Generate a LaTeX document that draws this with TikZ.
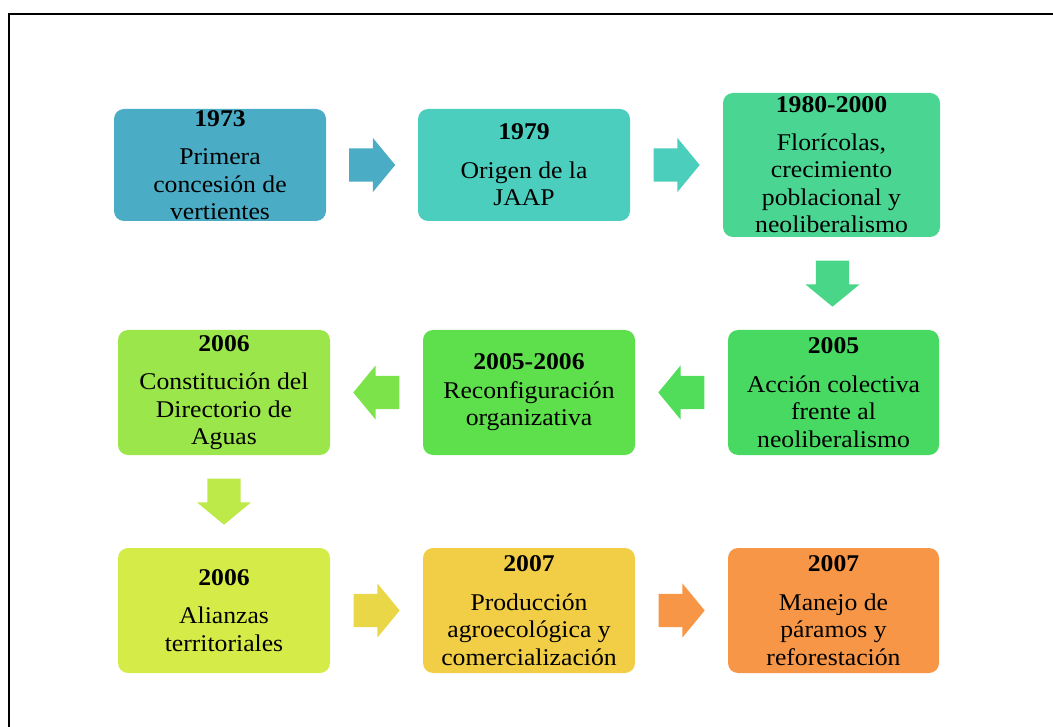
\documentclass[tikz,border=0pt]{standalone}
\usepackage{fontspec}
\setmainfont{Liberation Serif}[FakeStretch=1.07]
\usepackage{tikz}
\usetikzlibrary{shapes.arrows,calc}
\definecolor{cteal}{RGB}{75,172,198}
\definecolor{cturq}{RGB}{75,206,190}
\definecolor{cmint}{RGB}{74,213,146}
\definecolor{cgreen}{RGB}{72,217,98}
\definecolor{clgreen}{RGB}{94,224,76}
\definecolor{clime}{RGB}{155,230,75}
\definecolor{cyellowgreen}{RGB}{213,236,72}
\definecolor{cgold}{RGB}{242,206,71}
\definecolor{corange}{RGB}{247,150,70}

\begin{document}
\begin{tikzpicture}[x=1pt, y=-1pt,
    box/.style={rectangle, rounded corners=10pt, minimum width=212pt, minimum height=125pt, inner sep=0pt, align=center, font=\fontsize{24}{27.5}\selectfont},
    blockarrow/.style={single arrow, anchor=tail, minimum height=46pt, single arrow head extend=10.5pt, single arrow tip angle=101, inner xsep=0pt, inner ysep=16.5pt}
]
    \useasboundingbox (0,0) rectangle (1053,727);
    \draw[line width=2pt] (9,727) -- (9,14) -- (1053,14);

    % first row
    \node[box, fill=cteal, minimum height=112pt] (b1973) at (220,165) {\textbf{1973}\\[11pt]Primera\\concesión de\\vertientes};
    \node[box, fill=cturq, minimum height=112pt] (b1979) at (524,165) {\textbf{1979}\\[11pt]Origen de la\\JAAP};
    \node[box, fill=cmint, minimum width=217pt, minimum height=144pt] (b1980) at (831.5,165) {\textbf{1980-2000}\\[10pt]Florícolas,\\crecimiento\\poblacional y\\neoliberalismo};

    % second row
    \node[box, fill=cgreen, minimum width=211pt] (b2005) at (833.5,392.5) {\textbf{2005}\\[11pt]Acción colectiva\\frente al\\neoliberalismo};
    \node[box, fill=clgreen] (b20056) at (529,392.5) {\textbf{2005-2006}\\[1pt]Reconfiguración\\organizativa};
    \node[box, fill=clime] (b2006a) at (224,392.5) {\textbf{2006}\\[11pt]Constitución del\\Directorio de\\Aguas};

    % third row
    \node[box, fill=cyellowgreen] (b2006b) at (224,610.5) {\textbf{2006}\\[11pt]Alianzas\\territoriales};
    \node[box, fill=cgold] (b2007a) at (529,610.5) {\textbf{2007}\\[11pt]Producción\\agroecológica y\\comercialización};
    \node[box, fill=corange, minimum width=211pt] (b2007b) at (833.5,610.5) {\textbf{2007}\\[11pt]Manejo de\\páramos y\\reforestación};

    % arrows (tail placed 23pt before the middle of the gap)
    \node[blockarrow, fill=cteal] (a1) at ($(b1973.east)!.5!(b1979.west)+(-23,0)$) {};
    \node[blockarrow, fill=cturq!95!cmint] (a2) at ($(b1979.east)!.5!(b1980.west)+(-23,0)$) {};
    \node[blockarrow, fill=cmint!80!cgreen, rotate=-90] (a3) at ($(b1980.south)!.5!(b2005.north)+(0,-23)$) {};
    \node[blockarrow, fill=cgreen!60!clgreen, rotate=180] (a4) at ($(b2005.west)!.5!(b20056.east)+(23,0)$) {};
    \node[blockarrow, fill=clgreen!50!clime, rotate=180] (a5) at ($(b20056.west)!.5!(b2006a.east)+(23,0)$) {};
    \node[blockarrow, fill=clime!40!cyellowgreen, rotate=-90] (a6) at ($(b2006a.south)!.5!(b2006b.north)+(0,-23)$) {};
    \node[blockarrow, fill=cyellowgreen!30!cgold] (a7) at ($(b2006b.east)!.5!(b2007a.west)+(-23,0)$) {};
    \node[blockarrow, fill=corange] (a8) at ($(b2007a.east)!.5!(b2007b.west)+(-23,0)$) {};
\end{tikzpicture}
\end{document}
